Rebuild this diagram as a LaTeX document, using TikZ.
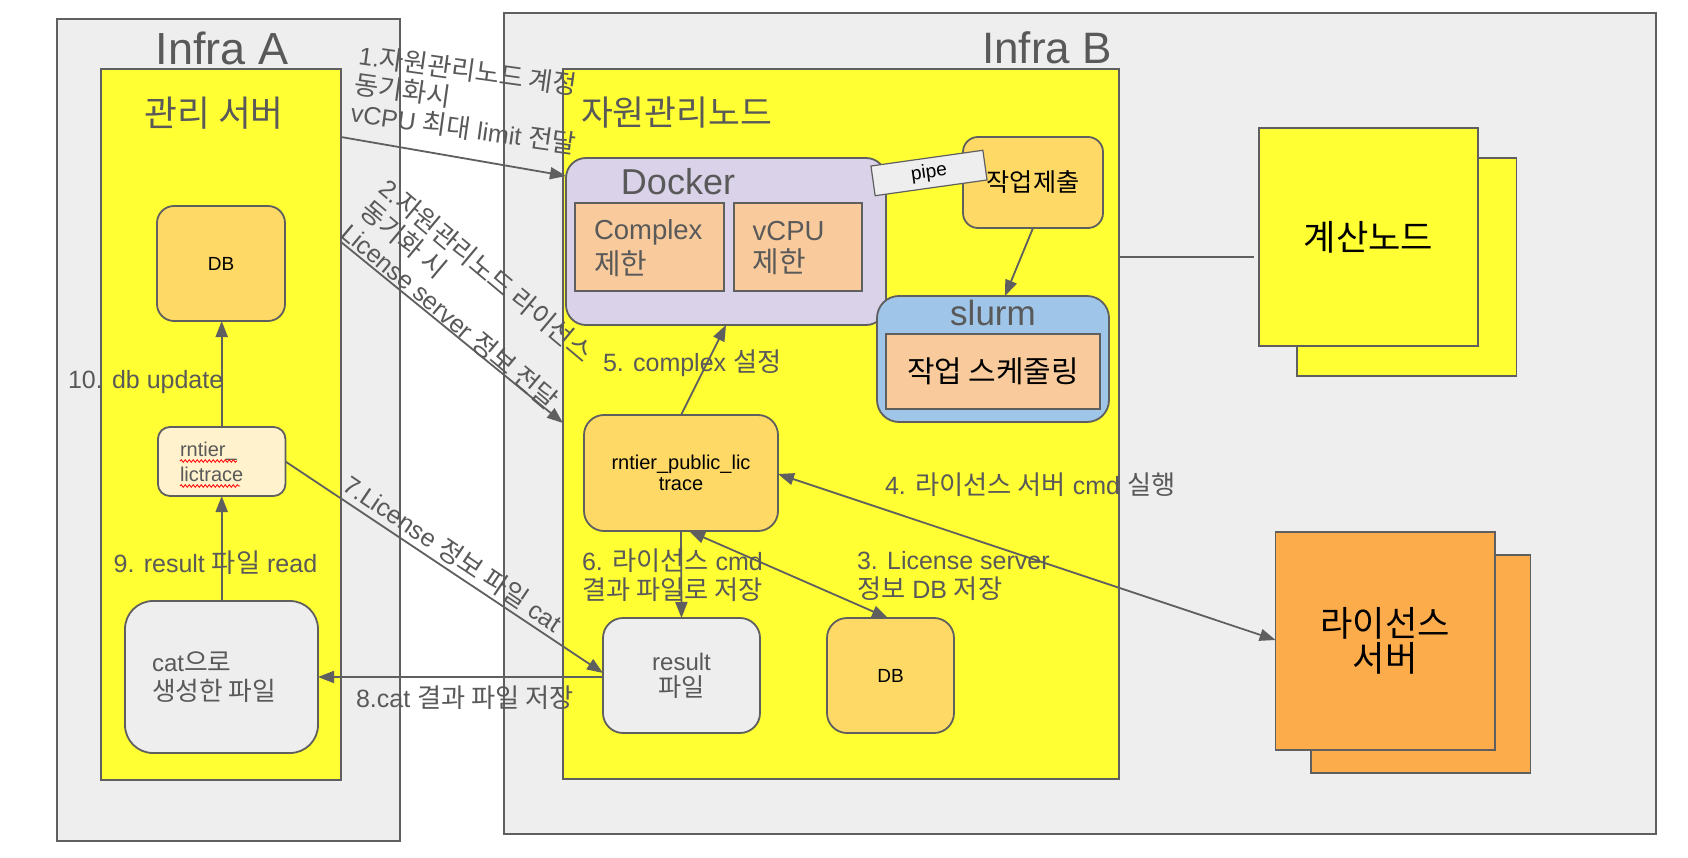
\documentclass[tikz,border=0pt]{standalone}
\usepackage{fontspec}
\setmainfont{Liberation Sans}
\newfontfamily\kr[Scale=1.05]{Noto Sans CJK KR}
\usetikzlibrary{arrows.meta,decorations.pathmorphing}
\definecolor{edgec}{HTML}{5F5F5F}
\definecolor{gtext}{HTML}{595959}
\definecolor{infrac}{HTML}{EEEEEE}
\definecolor{yelc}{HTML}{FFFF33}
\definecolor{dbc}{HTML}{FFD966}
\definecolor{dockc}{HTML}{D9D2E9}
\definecolor{peachc}{HTML}{F9CB9C}
\definecolor{slurmc}{HTML}{9FC5E8}
\definecolor{lightc}{HTML}{FFF2CC}
\definecolor{licc}{HTML}{FDAC4C}
\newcommand{\fs}[1]{\fontsize{#1pt}{#1pt}\selectfont}
\begin{document}
\begin{tikzpicture}[x=1pt,y=-1pt,
  box/.style={draw=edgec, line width=1.8pt, inner sep=0pt, outer sep=0pt},
  txt/.style={inner sep=0pt, outer sep=0pt, text=gtext},
  btxt/.style={inner sep=0pt, outer sep=0pt, text=black},
  lbl/.style={inner sep=0pt, outer sep=0pt, text=gtext, align=left, font=\fontsize{25pt}{29pt}\selectfont},
  conn/.style={draw=edgec, line width=1.8pt, -{Triangle[length=16pt,width=12pt]}},
  dconn/.style={draw=edgec, line width=1.8pt, {Triangle[length=16pt,width=12pt]}-{Triangle[length=16pt,width=12pt]}},
  squig/.style={draw=red, line width=0.8pt, decorate, decoration={snake, amplitude=1.3pt, segment length=4pt}}]
\useasboundingbox (0,0) rectangle (1688,858);
\fill[white] (0,0) rectangle (1688,858);

% outer infra boxes
\node[box, fill=infrac, minimum width=343pt, minimum height=822pt] (infraA) at (228.5,430) {};
\node[box, fill=infrac, minimum width=1152pt, minimum height=821pt] (infraB) at (1080,423.5) {};
\node[txt, font=\fs{45}] (infraAt) at (222,48.5) {Infra A};
\node[txt, font=\fs{44}] (infraBt) at (1047,48) {Infra B};

% yellow servers
\node[box, fill=yelc, minimum width=240pt, minimum height=711pt] (mgmt) at (221,424.5) {};
\node[box, fill=yelc, minimum width=556pt, minimum height=710pt] (rmn) at (841,424) {};
\node[txt, font=\kr\fs{34}] (mgmtt) at (214,113) {관리 서버};
\node[txt, font=\kr\fs{33}, anchor=west] (rmnt) at (581,113) {자원관리노드};

% Infra A inner nodes
\node[box, fill=dbc, rounded corners=17pt, minimum width=128pt, minimum height=115pt, font=\fs{19}, text=black] (db1) at (221,263.5) {DB};
\node[box, fill=lightc, rounded corners=12pt, minimum width=127.5pt, minimum height=69pt] (rlt) at (221.7,461.5) {};
\node[txt, font=\fs{20}, align=left, anchor=west] (rltt) at (180,462) {rntier\_\\[5pt]lictrace};
\draw[squig] (180,461) -- (237,461);
\draw[squig] (180,486) -- (240,486);
\node[box, fill=infrac, rounded corners=28pt, minimum width=193pt, minimum height=152pt] (catf) at (221.5,677) {};
\node[txt, font=\kr\fs{24.5}, align=left, anchor=west] (catft) at (152,677) {{\rmfamily\fs{24}cat}으로\\[4pt]생성한 파일};

% Docker
\node[box, fill=dockc, rounded corners=20pt, minimum width=320pt, minimum height=167pt] (docker) at (726,241.5) {};
\node[txt, font=\fs{36}] (dockert) at (678,182) {Docker};
\node[box, fill=peachc, minimum width=149pt, minimum height=88pt] (cplx) at (649.5,247) {};
\node[box, fill=peachc, minimum width=128pt, minimum height=88pt] (vcpu) at (798,247) {};
\node[txt, font=\fs{27.5}, align=left, anchor=west] (cplxt) at (594,248) {Complex\\[4pt]{\kr 제한}};
\node[txt, font=\fs{27.5}, align=left, anchor=west] (vcput) at (752.7,248) {vCPU\\[4pt]{\kr 제한}};

% job submit / slurm
\node[box, fill=dbc, rounded corners=15pt, minimum width=140pt, minimum height=91pt, font=\kr\fs{24}, text=black] (submit) at (1033,182.5) {작업제출};
\node[box, fill=infrac, line width=1.2pt, minimum width=113pt, minimum height=30pt, rotate=8, font=\fs{19}, text=black] (pipe) at (929,173) {pipe};
\node[box, fill=slurmc, rounded corners=22pt, minimum width=232pt, minimum height=126pt] (slurm) at (993,359) {};
\node[txt, font=\fs{35}] (slurmt) at (993,313) {slurm};
\node[box, fill=peachc, minimum width=214pt, minimum height=75pt, font=\kr\fs{28.5}, text=black] (sched) at (993,371.5) {작업 스케줄링};

% rntier public lictrace, result, DB2
\node[box, fill=dbc, rounded corners=20pt, minimum width=194pt, minimum height=116pt, font=\fs{20}, text=black, align=center] (rpl) at (681,473) {rntier\_public\_lic\\[1pt]trace};
\node[box, fill=infrac, rounded corners=20pt, minimum width=157pt, minimum height=115pt, font=\fs{24}, text=gtext, align=center] (res) at (681.5,675.5) {result\\[2pt]{\kr 파일}};
\node[box, fill=dbc, rounded corners=20pt, minimum width=127pt, minimum height=115pt, font=\fs{19}, text=black] (db2) at (890.5,675.5) {DB};

% compute nodes
\node[box, fill=yelc, line width=1.5pt, minimum width=219.5pt, minimum height=218pt] (compb) at (1406.75,267) {};
\node[box, fill=yelc, line width=1.5pt, minimum width=219pt, minimum height=218pt, font=\kr\fs{33.5}, text=black] (compf) at (1368.5,237) {계산노드};
% license servers
\node[box, fill=licc, line width=1.5pt, minimum width=219.6pt, minimum height=218pt] (licb) at (1420.8,664) {};
\node[box, fill=licc, line width=1.5pt, minimum width=219.4pt, minimum height=218pt, font=\kr\fs{33.5}, text=black, align=center] (licf) at (1385.3,641) {라이선스\\[2pt]서버};

% connectors
\draw[conn] (mgmt.east |- 0,137) -- (docker.west |- 0,176);
\draw[conn] (mgmt.east |- 0,242) -- (rmn.west |- 0,423);
\draw[dconn] (rpl.south -| 689,0) -- (db2.north -| 888,0);
\draw[dconn] (rpl.east |- 0,474) -- (licf.west |- 0,640);
\draw[conn] (rpl.north) -- (docker.south);
\draw[conn] (rpl.south) -- (res.north);
\draw[conn] (rlt.east) -- (res.west |- 0,673);
\draw[conn] (res.west |- 0,677) -- (catf.east);
\draw[conn] (catf.north -| rlt.south) -- (rlt.south);
\draw[conn] (rlt.north) -- (db1.south -| rlt.north);
\draw[conn] (submit.south) -- (slurm.north -| 1005,0);
\draw[draw=edgec, line width=1.5pt, shorten >=5pt] (rmn.east |- 0,257) -- (compf.west |- 0,257);

% labels
\node[lbl, rotate=-8, anchor=north west] (l1) at (361,43) {1.{\kr 자원관리노드 계정}\\{\kr 동기화시}\\vCPU {\kr 최대} limit {\kr 전달}};
\node[lbl, rotate=-40, anchor=north west] (l2) at (391,175) {2.{\kr 자원관리노드 라이선스}\\{\kr 동기화 시}\\License server {\kr 정보 전달}};
\node[lbl, anchor=west] (l3) at (857,576) {3. License server\\{\kr 정보} DB {\kr 저장}};
\node[lbl, anchor=west] (l4) at (885,485) {4. {\kr 라이선스 서버} cmd {\kr 실행}};
\node[lbl, anchor=west] (l5) at (603,363) {5. complex {\kr 설정}};
\node[lbl, anchor=west] (l6) at (582,575.5) {6. {\kr 라이선스} cmd\\{\kr 결과 파일로 저장}};
\node[lbl, rotate=-34] (l7) at (453,553) {7.License {\kr 정보 파일} cat};
\node[lbl, anchor=west] (l8) at (356,697.7) {8.cat {\kr 결과 파일 저장}};
\node[lbl, anchor=west] (l9) at (113.7,563) {9. result {\kr 파일} read};
\node[lbl, anchor=west] (l10) at (68,382) {10. db update};
\end{tikzpicture}
\end{document}
